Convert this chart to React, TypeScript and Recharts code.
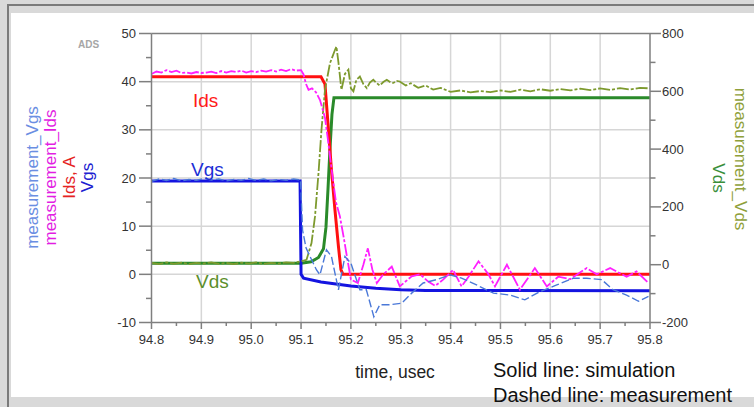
import React from 'react';
import { LineChart, Line, XAxis, YAxis, ReferenceLine } from 'recharts';

const FONT = '"Liberation Sans", Arial, sans-serif';

const xTicks = [94.8, 94.85, 94.9, 94.95, 95.0, 95.05, 95.1, 95.15, 95.2, 95.25, 95.3, 95.35, 95.4, 95.45, 95.5, 95.55, 95.6, 95.65, 95.7, 95.75, 95.8];
const leftTicks = [-10, -5, 0, 5, 10, 15, 20, 25, 30, 35, 40, 45, 50];
const rightTicks = [-200, -100, 0, 100, 200, 300, 400, 500, 600, 700, 800];
const xGrid = [94.9, 95.0, 95.1, 95.2, 95.3, 95.4, 95.5, 95.6, 95.7];
const yGrid = [0, 10, 20, 30, 40];

// simulation (solid)
const idsSim: [number, number][] = [[94.8, 41], [95.14, 41], [95.148, 39.5], [95.155, 30], [95.161, 21.7], [95.168, 13.4], [95.175, 5.8], [95.18, 1], [95.184, 0], [95.8, 0]];
const vgsSim: [number, number][] = [[94.8, 19.4], [95.098, 19.4], [95.1, 0], [95.105, -0.8], [95.14, -1.6], [95.2, -2.4], [95.25, -2.9], [95.3, -3.2], [95.35, -3.35], [95.8, -3.4]];
const vdsSim: [number, number][] = [[94.8, 5], [95.1, 5], [95.12, 10], [95.135, 25], [95.145, 55], [95.15, 130], [95.154, 260], [95.158, 400], [95.162, 520], [95.166, 578], [95.8, 578]];

// measurement (dashed)
const idsMeas: [number, number][] = [
  [94.8, 41.6], [94.81, 42.1], [94.82, 41.9], [94.83, 42.4], [94.84, 42.0], [94.85, 42.3], [94.86, 41.8], [94.87, 41.9], [94.88, 41.7], [94.89, 42.0],
  [94.9, 41.8], [94.91, 41.9], [94.92, 42.1], [94.93, 41.8], [94.94, 42.2], [94.95, 41.9], [94.96, 42.2], [94.97, 42.0], [94.98, 42.3], [94.99, 41.9],
  [95.0, 42.2], [95.01, 42.0], [95.02, 42.3], [95.03, 42.1], [95.04, 42.4], [95.05, 42.1], [95.06, 42.5], [95.07, 42.2], [95.08, 42.6], [95.09, 42.3],
  [95.1, 42.4], [95.105, 41.5], [95.11, 39.5], [95.115, 38.3], [95.122, 38.6], [95.13, 37.8], [95.138, 36.2], [95.148, 32.5], [95.154, 27.9], [95.161, 22],
  [95.17, 15], [95.178, 12], [95.185, 8], [95.192, 3.7], [95.2, -1.1], [95.214, -1.8], [95.225, 2], [95.234, 5.4], [95.243, 1], [95.252, -1.8],
  [95.265, 0], [95.282, 1.6], [95.298, -2.5], [95.322, -0.4], [95.339, 0], [95.355, -1.5], [95.369, -2.4], [95.385, -1.1], [95.405, 0.9], [95.422, -2.5],
  [95.436, -0.5], [95.456, 2.7], [95.476, 0], [95.489, -2.5], [95.513, 2.0], [95.539, -3.2], [95.569, 1.3], [95.593, -2.5], [95.616, -0.5], [95.64, -1],
  [95.673, 1.3], [95.693, 0], [95.72, 1.3], [95.753, -0.5], [95.773, 0.6], [95.797, -1.8],
];
const vgsMeas: [number, number][] = [
  [94.8, 19.3], [94.815, 19.8], [94.83, 19.5], [94.845, 19.9], [94.86, 19.4], [94.875, 19.7], [94.89, 19.5], [94.905, 19.9], [94.92, 19.6], [94.935, 19.8],
  [94.95, 19.4], [94.965, 19.7], [94.98, 19.5], [94.995, 19.9], [95.01, 19.5], [95.025, 19.8], [95.04, 19.4], [95.055, 19.7], [95.07, 19.5], [95.085, 19.8],
  [95.099, 19.6], [95.103, 9.2], [95.11, 5.5], [95.118, 3.7], [95.131, 0.9], [95.138, -0.1], [95.151, 5.1], [95.161, 3.7], [95.175, -3.2], [95.188, 3.7],
  [95.2, 2.3], [95.218, -3.2], [95.231, -3.2], [95.246, -8.8], [95.258, -6.3], [95.278, -6.3], [95.302, -6], [95.322, -3.9], [95.345, -1.8], [95.372, -1.1],
  [95.399, -0.1], [95.422, -0.8], [95.452, -2.2], [95.486, -3.9], [95.519, -4.3], [95.549, -5.3], [95.579, -3.6], [95.613, -2.2], [95.646, -0.8], [95.673, -0.8],
  [95.703, -1.1], [95.726, -3.2], [95.753, -4.3], [95.777, -5.6], [95.797, -4.6],
];
const vdsMeas: [number, number][] = [
  [94.8, 6], [94.815, 2], [94.83, 8], [94.845, 3], [94.86, 7], [94.875, 2], [94.89, 6], [94.905, 4], [94.92, 8], [94.935, 3],
  [94.95, 6], [94.965, 2], [94.98, 7], [94.995, 4], [95.01, 8], [95.025, 3], [95.04, 6], [95.055, 4], [95.07, 8], [95.085, 6],
  [95.1, 12], [95.111, 17], [95.121, 75], [95.128, 167], [95.135, 317], [95.141, 467], [95.148, 605], [95.158, 697], [95.168, 743], [95.171, 755],
  [95.175, 700], [95.181, 605], [95.188, 660], [95.195, 675], [95.2, 610], [95.205, 600], [95.211, 640], [95.218, 651], [95.225, 625], [95.232, 611],
  [95.238, 630], [95.245, 640], [95.252, 628], [95.258, 620], [95.265, 632], [95.272, 640], [95.28, 630], [95.285, 629], [95.292, 636], [95.298, 634],
  [95.31, 620], [95.32, 628], [95.335, 612], [95.35, 620], [95.365, 606], [95.38, 612], [95.4, 598], [95.42, 603], [95.44, 596], [95.46, 601],
  [95.48, 597], [95.5, 603], [95.52, 598], [95.54, 606], [95.56, 600], [95.58, 607], [95.6, 602], [95.62, 608], [95.64, 603], [95.66, 609],
  [95.68, 604], [95.7, 610], [95.72, 605], [95.74, 611], [95.76, 606], [95.78, 612], [95.8, 610],
];

const toData = (arr: [number, number][]) => arr.map(([t, v]) => ({ t, v }));

const AXIS = '#7f7f7f';
const LABEL = '#333333';

const XTick = (props: any) => {
  const { x, y, payload } = props;
  const v = payload.value as number;
  const major = Math.round(v * 100) % 10 === 0;
  return (
    <g>
      <line x1={x} x2={x} y1={y} y2={y + (major ? 6.5 : 3.5)} stroke={AXIS} strokeWidth={1.5} />
      {major && (
        <text x={x} y={y + 21} textAnchor="middle" fontSize={13} fill={LABEL} fontFamily={FONT}>
          {v.toFixed(1)}
        </text>
      )}
    </g>
  );
};

const LeftTick = (props: any) => {
  const { x, y, payload } = props;
  const v = payload.value as number;
  const major = v % 10 === 0;
  return (
    <g>
      <line x1={x - (major ? 12.5 : 5.5)} x2={x} y1={y} y2={y} stroke={AXIS} strokeWidth={1.5} />
      {major && (
        <text x={x - 15.5} y={y + 4.5} textAnchor="end" fontSize={13} fill={LABEL} fontFamily={FONT}>
          {v}
        </text>
      )}
    </g>
  );
};

const RightTick = (props: any) => {
  const { x, y, payload } = props;
  const v = payload.value as number;
  const major = v % 200 === 0;
  return (
    <g>
      <line x1={x} x2={x + (major ? 11 : 5.5)} y1={y} y2={y} stroke={AXIS} strokeWidth={1.5} />
      {major && (
        <text x={x + 12} y={y + 4.5} textAnchor="start" fontSize={13} fill={LABEL} fontFamily={FONT}>
          {v}
        </text>
      )}
    </g>
  );
};

export default function App() {
  return (
    <div style={{ position: 'absolute', left: 0, top: 0, width: 754, height: 407, background: '#d9d9d9', overflow: 'hidden', fontFamily: FONT }}>
      <div style={{ position: 'absolute', left: 7, top: 4, right: 0, height: 2, background: '#7a7a7a' }} />
      <div style={{ position: 'absolute', left: 7, top: 4, width: 2, bottom: 0, background: '#7a7a7a' }} />
      <div style={{ position: 'absolute', left: 11, top: 13, right: 0, bottom: 10.5, background: '#ffffff' }} />
      <div style={{ position: 'absolute', left: 0, top: 0 }}>
        <LineChart width={754} height={407} margin={{ top: 33.5, right: 44, bottom: 54.5, left: 0 }}>
          <XAxis
            dataKey="t"
            type="number"
            domain={[94.8, 95.8]}
            ticks={xTicks}
            interval={0}
            allowDataOverflow
            height={30}
            tickSize={0}
            tickMargin={0}
            tickLine={false}
            axisLine={{ stroke: AXIS, strokeWidth: 1.5 }}
            tick={(p: any) => <XTick {...p} />}
          />
          <YAxis
            yAxisId="left"
            type="number"
            domain={[-10, 50]}
            ticks={leftTicks}
            interval={0}
            allowDataOverflow
            width={151.5}
            tickSize={0}
            tickMargin={0}
            tickLine={false}
            axisLine={{ stroke: AXIS, strokeWidth: 1.5 }}
            tick={(p: any) => <LeftTick {...p} />}
          />
          <YAxis
            yAxisId="right"
            orientation="right"
            type="number"
            domain={[-200, 800]}
            ticks={rightTicks}
            interval={0}
            allowDataOverflow
            width={60}
            tickSize={0}
            tickMargin={0}
            tickLine={false}
            axisLine={{ stroke: AXIS, strokeWidth: 1.5 }}
            tick={(p: any) => <RightTick {...p} />}
          />
          {xGrid.map((g) => (
            <ReferenceLine key={'xg' + g} x={g} yAxisId="left" stroke="#d6d6d6" strokeWidth={1.5} />
          ))}
          {yGrid.map((g) => (
            <ReferenceLine key={'yg' + g} y={g} yAxisId="left" stroke="#d6d6d6" strokeWidth={1.5} />
          ))}
          <ReferenceLine y={50} yAxisId="left" stroke={AXIS} strokeWidth={1.5} />

          <Line data={toData(vdsSim)} dataKey="v" yAxisId="right" type="linear" stroke="#2a8a2a" strokeWidth={3} dot={false} isAnimationActive={false} />
          <Line data={toData(idsSim)} dataKey="v" yAxisId="left" type="linear" stroke="#ff1010" strokeWidth={3} dot={false} isAnimationActive={false} />
          <Line data={toData(vgsSim)} dataKey="v" yAxisId="left" type="linear" stroke="#1414e0" strokeWidth={3} dot={false} isAnimationActive={false} />
          <Line data={toData(vdsMeas)} dataKey="v" yAxisId="right" type="linear" stroke="#7d9a2e" strokeWidth={1.8} strokeDasharray="12 2 3 2" dot={false} isAnimationActive={false} />
          <Line data={toData(idsMeas)} dataKey="v" yAxisId="left" type="linear" stroke="#ff20ff" strokeWidth={1.8} strokeDasharray="12 2 3 2" dot={false} isAnimationActive={false} />
          <Line data={toData(vgsMeas)} dataKey="v" yAxisId="left" type="linear" stroke="#4a78d8" strokeWidth={1.4} strokeDasharray="8 3" dot={false} isAnimationActive={false} />
        </LineChart>
      </div>
      <svg width={754} height={407} style={{ position: 'absolute', left: 0, top: 0, pointerEvents: 'none' }} fontFamily={FONT}>
        <text x={78} y={48} fontSize={10} fontWeight="bold" fill="#a6a6a6">ADS</text>

        <text x={37.5} y={177.5} transform="rotate(-90 37.5 177.5)" textAnchor="middle" fontSize={17} fill="#6a8ee2">measurement_Vgs</text>
        <text x={55.5} y={177.5} transform="rotate(-90 55.5 177.5)" textAnchor="middle" fontSize={17} fill="#e21ee2">measurement_Ids</text>
        <text x={74.5} y={177.5} transform="rotate(-90 74.5 177.5)" textAnchor="middle" fontSize={17} fill="#e52222">Ids, A</text>
        <text x={92.5} y={177.5} transform="rotate(-90 92.5 177.5)" textAnchor="middle" fontSize={17} fill="#2020d0">Vgs</text>

        <text x={735} y={159} transform="rotate(90 735 159)" textAnchor="middle" fontSize={17} fill="#8fa03a">measurement_Vds</text>
        <text x={713} y={178} transform="rotate(90 713 178)" textAnchor="middle" fontSize={17} fill="#3a8f3a">Vds</text>

        <text x={193} y={107} fontSize={19} fill="#ff1a1a">Ids</text>
        <text x={191} y={176} fontSize={19} fill="#1c2fd6">Vgs</text>
        <text x={196} y={288} fontSize={19} fill="#5c8f2c">Vds</text>

        <text x={395} y={378} textAnchor="middle" fontSize={17.5} fill="#222">time, usec</text>
        <text x={493} y={377} fontSize={20} fill="#111">Solid line: simulation</text>
        <text x={493} y={401.5} fontSize={20} fill="#111">Dashed line: measurement</text>
      </svg>
    </div>
  );
}
